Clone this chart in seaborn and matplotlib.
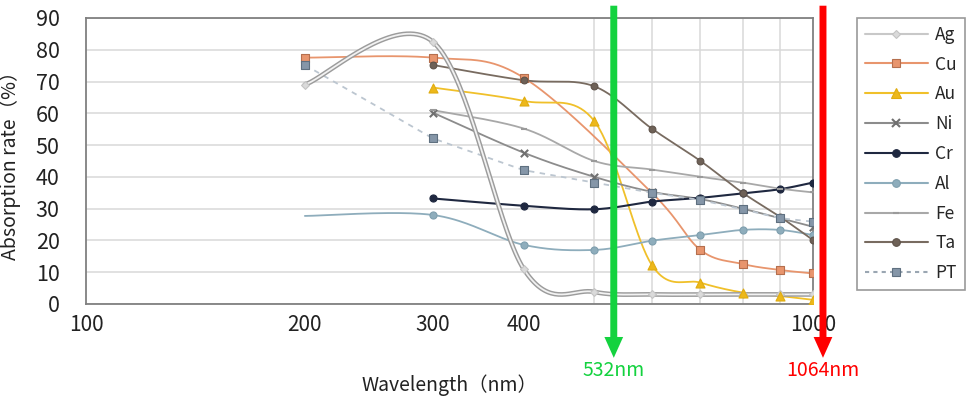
"""
    Absorption rate of metals vs. wavelength, with the 532nm / 1064nm laser lines marked
"""
import numpy as np
import pandas as pd
import seaborn as sns
import matplotlib.pyplot as plt
from matplotlib.lines import Line2D

nan = np.nan

#Values (%)
wavelength = [200, 300, 400, 500, 600, 700, 800, 900, 1000]
ag = [69.0, 82.5, 11.0, 3.8, 3.0, 3.0, 3.0, 3.0, 3.0]
cu = [77.5, 77.5, 71.2, nan, 35.0, 17.0, 12.6, 10.7, 9.6]
au = [nan, 68.1, 63.9, 57.6, 12.3, 6.7, 3.6, 2.5, 1.3]
ni = [nan, 60.2, 47.6, 40.0, 35.3, 33.0, 30.0, 27.0, 24.3]
cr = [nan, 33.2, 30.9, 29.8, 32.2, 33.4, 34.8, 36.1, 38.2]
al = [27.7, 28.0, 18.6, 17.0, 19.9, 21.7, 23.3, 23.3, 21.7]
fe = [nan, 61.0, 55.2, 45.0, 42.3, 40.0, 38.2, 36.3, 35.1]
ta = [nan, 75.2, 70.4, 68.5, 55.2, 45.0, 35.0, 27.5, 20.1]
pt = [75.2, 52.1, 42.1, 38.2, 35.0, 32.7, 29.8, 27.0, 25.9]

metals = ['Ag', 'Cu', 'Au', 'Ni', 'Cr', 'Al', 'Fe', 'Ta', 'PT']
series = [ag, cu, au, ni, cr, al, fe, ta, pt]

x_ticks = [100, 200, 300, 400, 1000]
x_grid = [300, 400, 500, 600, 700, 800, 900]
y_ticks = [0, 10, 20, 30, 40, 50, 60, 70, 80, 90]

#laser lines (the 1064 arrow sits just past the axis end in the source)
laser_pos = [532, 1032]
laser_labels = ['532nm', '1064nm']
laser_colors = ['#14D23F', '#FF0000']

line_color = {'Ag': '#C8C8C8', 'Cu': '#E8956D', 'Au': '#F0C02A', 'Ni': '#8C8C8C', 'Cr': '#1F2840',
              'Al': '#8EADBC', 'Fe': '#A8A8A8', 'Ta': '#786B60', 'PT': '#BCC6D0'}
face_color = {'Ag': '#DADADA', 'Cu': '#E8956D', 'Au': '#EDB81A', 'Ni': '#707070', 'Cr': '#1F2840',
              'Al': '#8EADBC', 'Fe': '#9A9A9A', 'Ta': '#6E6157', 'PT': '#8596A8'}
edge_color = {'Ag': '#C4C4C4', 'Cu': '#B56F4E', 'Au': '#E0AC10', 'Ni': '#707070', 'Cr': '#1F2840',
              'Al': '#7F9FAE', 'Fe': '#9A9A9A', 'Ta': '#5E5249', 'PT': '#5F7080'}
markers = {'Ag': 'D', 'Cu': 's', 'Au': '^', 'Ni': 'x', 'Cr': 'o', 'Al': 'o', 'Fe': '_', 'Ta': 'o', 'PT': 's'}
msize = {'Ag': 16, 'Cu': 30, 'Au': 42, 'Ni': 28, 'Cr': 26, 'Al': 26, 'Fe': 22, 'Ta': 24, 'PT': 30}
leg_msize = {'Ag': 4.5, 'Cu': 5.5, 'Au': 6.5, 'Ni': 5.5, 'Cr': 5.5, 'Al': 5.5, 'Fe': 5, 'Ta': 5.5, 'PT': 5.5}


def smooth(x, y, n=40):
    #Excel-like smoothed line: cubic bezier with catmull-rom control points, in log-x space
    u = np.log10(np.asarray(x, float))
    y = np.asarray(y, float)
    pts = np.column_stack([u, y])
    out = [pts[:1]]
    t = np.linspace(0, 1, n)[1:, None]
    for i in range(len(pts) - 1):
        p0 = pts[max(i - 1, 0)]
        p1 = pts[i]
        p2 = pts[i + 1]
        p3 = pts[min(i + 2, len(pts) - 1)]
        c1 = p1 + (p2 - p0) / 6
        c2 = p2 - (p3 - p1) / 6
        seg = (1 - t) ** 3 * p1 + 3 * (1 - t) ** 2 * t * c1 + 3 * (1 - t) * t ** 2 * c2 + t ** 3 * p2
        out.append(seg)
    out = np.vstack(out)
    return pd.DataFrame({'wl': 10 ** out[:, 0], 'rate': out[:, 1]})


sns.set_theme(style='white')
plt.rcParams['font.family'] = ['Noto Sans CJK JP', 'DejaVu Sans']

fig = plt.figure(figsize=(9.73, 4.08), dpi=100)
ax = fig.add_axes([0.0884, 0.255, 0.7472, 0.701])

for name, vals in zip(metals, series):
    df = pd.DataFrame({'wl': wavelength, 'rate': vals}).dropna()
    if name == 'PT':
        #PT is a straight dotted line
        sns.lineplot(x='wl', y='rate', data=df, ax=ax, color=line_color[name], lw=1.3,
                     linestyle=(0, (3, 3)), sort=False, estimator=None, zorder=2)
    elif name == 'Ag':
        curve = smooth(df['wl'], df['rate'])
        sns.lineplot(x='wl', y='rate', data=curve, ax=ax, color='#9C9C9C', lw=3.4,
                     sort=False, estimator=None, zorder=2.6)
        sns.lineplot(x='wl', y='rate', data=curve, ax=ax, color='#F2F2F2', lw=1.3,
                     sort=False, estimator=None, zorder=2.7)
    else:
        curve = smooth(df['wl'], df['rate'])
        lw = 1.5 if name == 'Cr' else 1.3
        sns.lineplot(x='wl', y='rate', data=curve, ax=ax, color=line_color[name], lw=lw,
                     sort=False, estimator=None, zorder=2)

#markers on top of the lines
for name, vals in zip(metals, series):
    df = pd.DataFrame({'wl': wavelength, 'rate': vals}).dropna()
    if name == 'Al':
        df = df[df['wl'] > 200]  #no marker at the first Al point in the source
    lw = 1.5 if name in ('Ni', 'Fe') else 0.8
    sns.scatterplot(x='wl', y='rate', data=df, ax=ax, marker=markers[name], s=msize[name],
                    color=face_color[name], edgecolor=edge_color[name], linewidth=lw, zorder=3)

ax.set_xscale('log')
ax.set_xlim(100, 1000)
ax.set_ylim(0, 90)
ax.set_xticks(x_ticks)
ax.set_xticklabels([str(v) for v in x_ticks])
ax.set_xticks(x_grid, minor=True)
ax.set_xticklabels([], minor=True)
ax.set_yticks(y_ticks)
ax.grid(axis='y', which='major', color='#D9D9D9', lw=1.1)
ax.grid(axis='x', which='minor', color='#D9D9D9', lw=1.1)
ax.grid(axis='x', which='major', visible=False)
ax.tick_params(axis='x', which='both', length=0, labelsize=15, pad=7, colors='#222222')
ax.tick_params(axis='y', direction='in', length=8, width=1.1, color='#999999',
               labelsize=15.5, pad=19, labelcolor='#222222')
for sp in ax.spines.values():
    sp.set_color('#808080')
    sp.set_linewidth(1.3)

ax.set_xlabel('Wavelength（nm）', fontsize=14, color='#222222')
ax.xaxis.set_label_coords(0.5, -0.245)
ax.set_ylabel('Absorption rate（%）', fontsize=14, color='#222222')
ax.yaxis.set_label_coords(-0.09, 0.5)

#legend
handles = []
for name in metals:
    ls = (0, (2, 2)) if name == 'PT' else '-'
    handles.append(Line2D([], [], color=line_color[name] if name != 'PT' else '#9AA6B2', lw=1.5, ls=ls,
                          marker=markers[name], markersize=leg_msize[name],
                          markerfacecolor=face_color[name], markeredgecolor=edge_color[name],
                          markeredgewidth=1.5 if name in ('Ni', 'Fe') else 0.8))
leg = fig.legend(handles, metals, loc='upper left', bbox_to_anchor=(0.881, 0.956),
                 fontsize=12.5, frameon=True, fancybox=False, edgecolor='#808080',
                 handlelength=3.6, handletextpad=0.45, labelspacing=0.68, borderpad=0.45,
                 borderaxespad=0)
leg.get_frame().set_linewidth(1.2)

#laser arrows
for pos, lab, c in zip(laser_pos, laser_labels, laser_colors):
    ax.annotate('', xy=(pos, 0.123), xytext=(pos, 0.986),
                xycoords=('data', 'figure fraction'), textcoords=('data', 'figure fraction'),
                arrowprops=dict(width=5, headwidth=13.5, headlength=15, shrink=0,
                                facecolor=c, edgecolor='none'),
                annotation_clip=False, zorder=10)
    ax.annotate(lab, xy=(pos, 0.091), xycoords=('data', 'figure fraction'), ha='center', va='center',
                color=c, fontsize=14, annotation_clip=False, zorder=10)

plt.savefig('out.png', dpi=100)
